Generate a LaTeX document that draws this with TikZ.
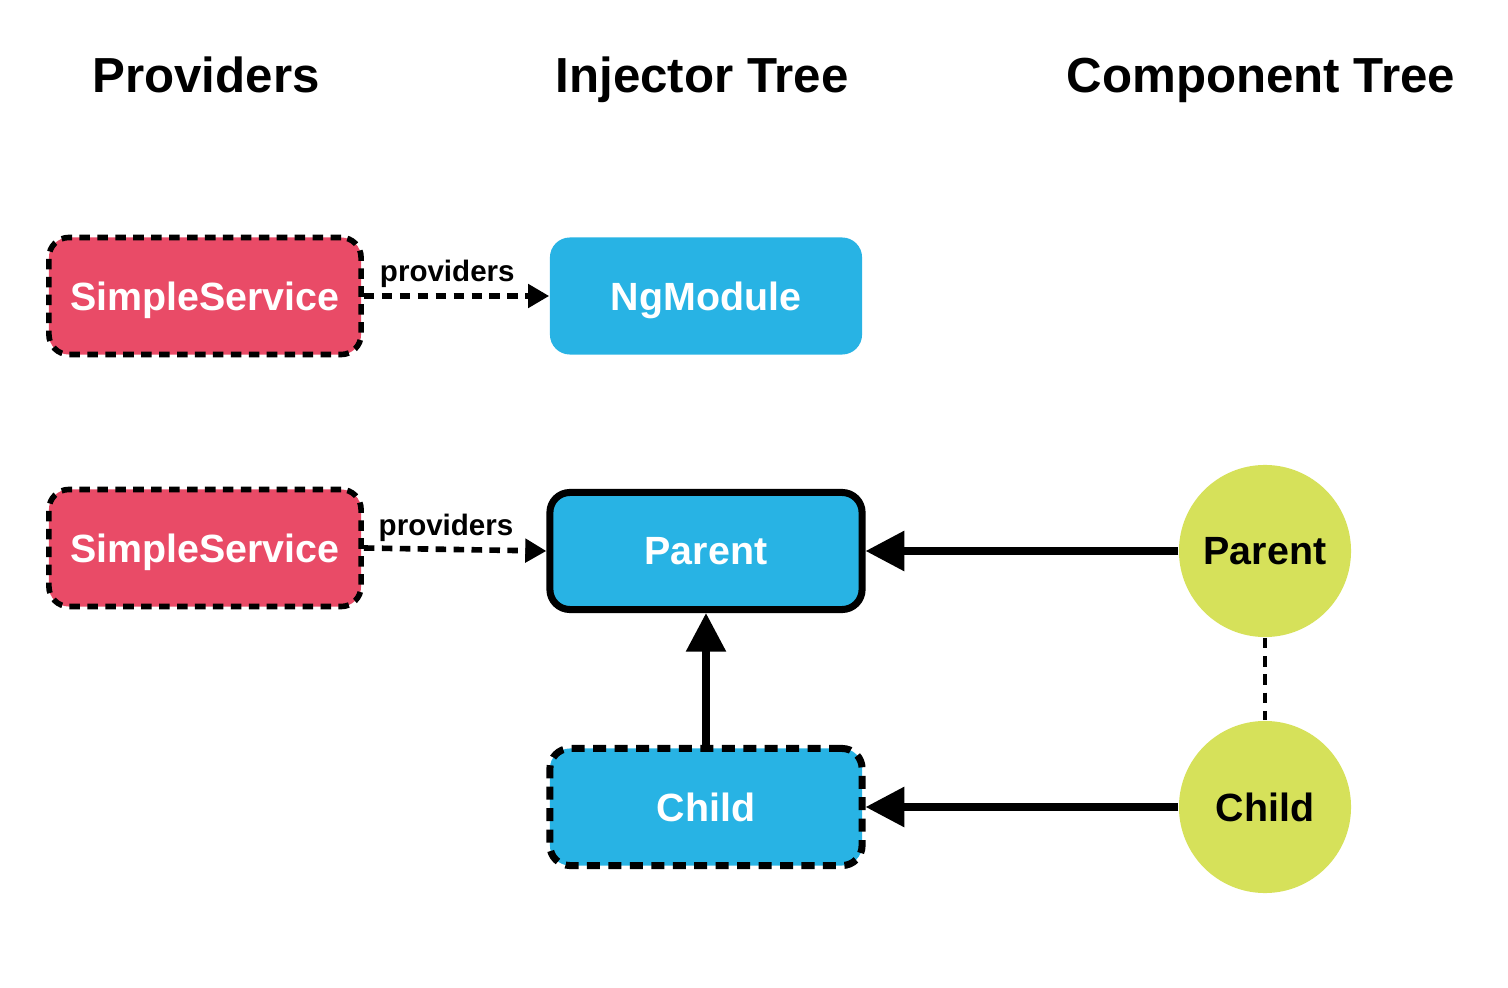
\documentclass[tikz,border=0pt]{standalone}
\usepackage{fontspec}
\setmainfont{Liberation Sans}
\usepackage{xcolor}
\usetikzlibrary{arrows.meta}

\definecolor{svcred}{RGB}{233,75,103}
\definecolor{injblue}{RGB}{40,179,228}
\definecolor{cmpgreen}{RGB}{214,225,90}

\begin{document}
\begin{tikzpicture}[x=0.01cm, y=-0.01cm,
    head/.style={anchor=base, font=\fontsize{14}{16}\selectfont\bfseries},
    box/.style={rectangle, rounded corners=0.2cm, minimum width=3.12cm, minimum height=1.17cm,
        inner sep=0pt, text depth=0pt, text=white, font=\fontsize{11.2}{13}\selectfont\bfseries},
    dashbox/.style={draw=black, line width=1.6pt, dash pattern=on 3pt off 2.1pt},
    cmp/.style={circle, fill=cmpgreen, minimum size=1.72cm, inner sep=0pt, text depth=0pt,
        font=\fontsize{11.2}{13}\selectfont\bfseries},
    link/.style={line width=2pt, -{Triangle[length=11pt,width=11pt]}},
    provide/.style={line width=1.6pt, dash pattern=on 3pt off 2.1pt,
        -{Triangle[length=6pt,width=6.5pt]}}
]

    % Frame
    \useasboundingbox (0,0) rectangle (1508,988);

    % Column headings
    \node[head] (hprov) at (206,93) {Providers};
    \node[head] (hinj)  at (702,93) {Injector Tree};
    \node[head] (hcmp)  at (1261,93) {Component Tree};

    % Providers
    \node[box, fill=svcred, dashbox] (svcA) at (205,296) {SimpleService};
    \node[box, fill=svcred, dashbox] (svcB) at (205,548) {SimpleService};

    % Injector tree
    \node[box, fill=injblue] (ngmod) at (706,296) {NgModule};
    \node[box, fill=injblue, draw=black, line width=2pt] (injpar) at (706,551) {Parent};
    \node[box, fill=injblue, dashbox, line width=2pt, dash pattern=on 3.7pt off 2.4pt]
        (injchild) at (706,807) {Child};

    % Component tree
    \node[cmp] (cmppar)   at (1265,551) {Parent};
    \node[cmp] (cmpchild) at (1265,807) {Child};

    % providers links
    \draw[provide] (svcA.east) -- node[above, pos=0.45, inner sep=1.5pt,
        font=\fontsize{8.4}{10}\selectfont\bfseries] {providers} (ngmod.west);
    \draw[provide] (svcB.east) -- node[above, pos=0.45, inner sep=1.5pt,
        font=\fontsize{8.4}{10}\selectfont\bfseries] {providers} (injpar.west);

    % component -> injector
    \draw[link] (cmppar.west) -- (injpar.east);
    \draw[link] (cmpchild.west) -- (injchild.east);
    \draw[link] (injchild.north) -- (injpar.south);

    % component parent/child
    \draw[line width=1.4pt, dash pattern=on 3pt off 2.2pt] (cmppar.south) -- (cmpchild.north);

\end{tikzpicture}
\end{document}
